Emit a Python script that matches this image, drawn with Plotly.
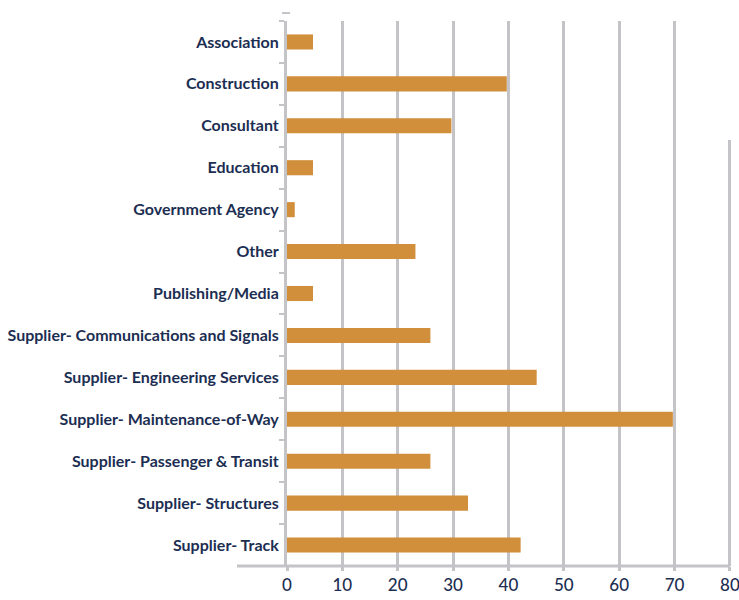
import plotly.graph_objects as go

categories = ["Association", "Construction", "Consultant", "Education", "Government Agency",
              "Other", "Publishing/Media", "Supplier- Communications and Signals",
              "Supplier- Engineering Services", "Supplier- Maintenance-of-Way",
              "Supplier- Passenger & Transit", "Supplier- Structures", "Supplier- Track"]
values = [4.7, 39.7, 29.7, 4.7, 1.4, 23.2, 4.7, 25.9, 45.1, 69.7, 25.9, 32.7, 42.2]
x_ticks = [0, 10, 20, 30, 40, 50, 60, 70, 80]

navy = "#1c2e52"
grid = "#c3c3c8"
bar_color = "#d18e3b"

fig = go.Figure(go.Bar(
    x=values, y=categories, orientation="h",
    marker=dict(color=bar_color, line=dict(width=0)),
    width=0.36,
))

W, H = 739, 600
L, R, T, B = 287, 8, 21, 34
pw = W - L - R
ph = H - T - B

fig.update_layout(
    width=W, height=H,
    margin=dict(l=L, r=R, t=T, b=B, pad=0, autoexpand=False),
    plot_bgcolor="white", paper_bgcolor="white",
    showlegend=False,
    font=dict(family="Lato", color=navy),
    xaxis=dict(
        range=[0, 80.2], tickvals=x_ticks, ticktext=[str(v) for v in x_ticks],
        showgrid=True, gridcolor=grid, gridwidth=3,
        zeroline=False, showline=False, automargin=False,
        ticks="outside", ticklen=4, tickcolor=grid, tickwidth=3,
        ticklabeloverflow="allow",
        tickfont=dict(family="Lato", size=17, color=navy, weight=500),
    ),
    yaxis=dict(
        categoryorder="array", categoryarray=categories[::-1],
        autorange=False, range=[-0.5, len(categories) - 0.5],
        showgrid=False, zeroline=False, automargin=False,
        showline=True, linecolor=grid, linewidth=3,
        ticks="outside", tickson="boundaries", ticklen=5, tickcolor=grid, tickwidth=2,
        ticklabelstandoff=2,
        tickfont=dict(family="Lato", size=16, color=navy, weight="bold"),
    ),
)

# x axis baseline extending to the left of the plot
x0p = (237 - L) / pw
fig.add_shape(type="line", xref="paper", yref="paper", x0=x0p, x1=80 / 80.2, y0=0, y1=0,
              line=dict(color=grid, width=3), layer="above")
# top of the 80 gridline is missing
x80 = 80 / 80.2
fig.add_shape(type="rect", xref="paper", yref="paper",
              x0=x80 - 5 / pw, x1=x80 + 5 / pw, y0=(H - B - 140) / ph, y1=1.02,
              fillcolor="white", line=dict(width=0), layer="above")
# small mark at the top of the y axis
fig.add_shape(type="line", xref="paper", yref="paper", x0=-5 / pw, x1=3 / pw,
              y0=(H - B - 13) / ph, y1=(H - B - 13) / ph,
              line=dict(color=grid, width=2), layer="above")

fig.write_html("out.html", config={"displayModeBar": False},
               post_script="document.body.style.margin='0';document.body.style.overflow='hidden';")
